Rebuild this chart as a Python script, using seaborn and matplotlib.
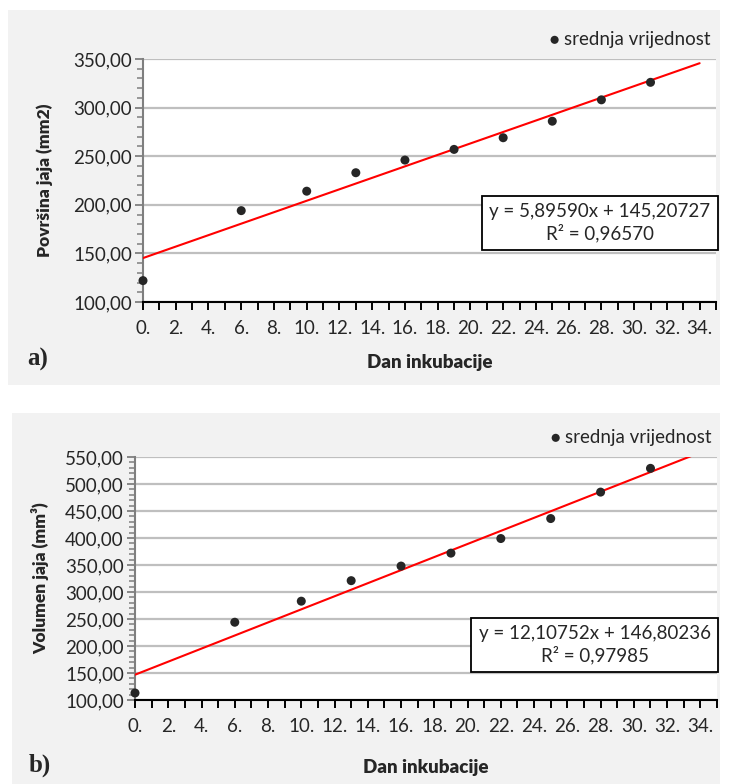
import numpy as np
import matplotlib
matplotlib.use("Agg")
import matplotlib.pyplot as plt
import seaborn as sns
from matplotlib.patches import Rectangle
from matplotlib.ticker import MultipleLocator, FuncFormatter

days = [0, 6, 10, 13, 16, 19, 22, 25, 28, 31]
povrsina = [122, 194, 214, 233, 246, 257, 269, 286, 308, 326]
volumen = [113, 244, 283, 321, 348, 372, 399, 436, 485, 529]

fit_a = (5.89590, 145.20727, 0.96570)
fit_b = (12.10752, 146.80236, 0.97985)
eq_a = "y = 5,89590x + 145,20727\nR² = 0,96570"
eq_b = "y = 12,10752x + 146,80236\nR² = 0,97985"

sns.set_style("white")
FONT = ["Lato", "DejaVu Sans"]
plt.rcParams["font.family"] = FONT
plt.rcParams["xtick.bottom"] = True
plt.rcParams["ytick.left"] = True
plt.rcParams["xtick.minor.visible"] = True
plt.rcParams["ytick.minor.visible"] = True

fig = plt.figure(figsize=(7.36, 7.84), dpi=100)
W, H = 736, 784


def px_rect(x0, y0, x1, y1):
    return [x0 / W, 1 - y1 / H, (x1 - x0) / W, (y1 - y0) / H]


for r in (px_rect(8, 10, 720, 385), px_rect(12, 413, 720, 784)):
    fig.patches.append(Rectangle((r[0], r[1]), r[2], r[3], transform=fig.transFigure,
                                 facecolor="#f2f2f2", edgecolor="none", zorder=-5))


def draw_panel(rect, y, ylim, fit, eq, ylabel, eq_pos, tag, tag_pos, xlabel_y, ylabel_x):
    ax = fig.add_axes(px_rect(*rect))
    ax.set_facecolor("white")
    slope, icpt, _ = fit
    xl = np.array([0, 34])
    ax.plot(xl, slope * xl + icpt, color="#ff0000", lw=1.5, zorder=3, clip_on=True)
    sns.scatterplot(x=days, y=y, ax=ax, color="#262626", s=42, edgecolor="none",
                    label="srednja vrijednost", zorder=4, clip_on=False)
    ax.set_xlim(0, 35)
    ax.set_ylim(*ylim)
    ax.xaxis.set_major_locator(MultipleLocator(2))
    ax.xaxis.set_minor_locator(MultipleLocator(1))
    ax.yaxis.set_major_locator(MultipleLocator(50))
    ax.yaxis.set_minor_locator(MultipleLocator(10))
    ax.xaxis.set_major_formatter(FuncFormatter(lambda v, p: f"{int(round(v))}."))
    ax.yaxis.set_major_formatter(FuncFormatter(lambda v, p: f"{v:.2f}".replace(".", ",")))
    ax.grid(axis="y", which="major", color="#bfbfbf", lw=1.6, zorder=0)
    ax.set_axisbelow(True)
    for s in ("top", "right"):
        ax.spines[s].set_visible(False)
    ax.spines["left"].set_color("#7f7f7f")
    ax.spines["left"].set_linewidth(1.5)
    ax.spines["bottom"].set_color("#000000")
    ax.spines["bottom"].set_linewidth(1.5)
    ax.tick_params(axis="y", which="major", direction="out", length=6, width=1.3, left=True,
                   color="#7f7f7f", labelsize=13.5, pad=2, labelcolor="#262626")
    ax.tick_params(axis="y", which="minor", direction="out", length=4, width=1.1, left=True,
                   color="#7f7f7f")
    ax.tick_params(axis="x", which="major", direction="out", length=6, width=1.4, bottom=True,
                   color="black", labelsize=13.5, pad=7, labelcolor="#262626")
    ax.tick_params(axis="x", which="minor", direction="out", length=6, width=1.4, bottom=True,
                   color="black")
    ax.set_xlabel("")
    ax.set_ylabel("")
    fig.text(ylabel_x / W, 1 - (rect[1] + rect[3]) / 2 / H, ylabel, rotation=90,
             ha="center", va="center", fontsize=12.5, fontweight="heavy", family=FONT)
    fig.text((rect[0] + rect[2]) / 2 / W, 1 - xlabel_y / H, "Dan inkubacije",
             ha="center", va="center", fontsize=13.5, fontweight="heavy", family=FONT)
    fig.text(tag_pos[0] / W, 1 - tag_pos[1] / H, tag, ha="center", va="center",
             fontsize=18, fontweight="bold", family="Liberation Serif")
    ax.text(eq_pos[0], eq_pos[1], eq, transform=ax.transAxes, ha="center", va="center",
            fontsize=13.5, linespacing=1.25, zorder=6, color="#262626",
            bbox=dict(boxstyle="square,pad=0.4", facecolor="white", edgecolor="black", lw=1.3))
    ax.legend(loc="lower right", bbox_to_anchor=(1.01, 1.0), frameon=False,
              fontsize=13.5, handletextpad=0.2, handlelength=0.6, markerscale=0.9,
              borderaxespad=0.2)
    return ax


draw_panel((143, 59, 716, 302), povrsina, (100, 350), fit_a, eq_a, "Površina jaja (mm2)",
           (0.797, 0.325), "a)", (38, 359), 362, 45)
draw_panel((135, 457, 717, 700), volumen, (100, 550), fit_b, eq_b, "Volumen jaja (mm³)",
           (0.79, 0.226), "b)", (40, 765), 768, 40)

fig.savefig("out.png", dpi=100)
